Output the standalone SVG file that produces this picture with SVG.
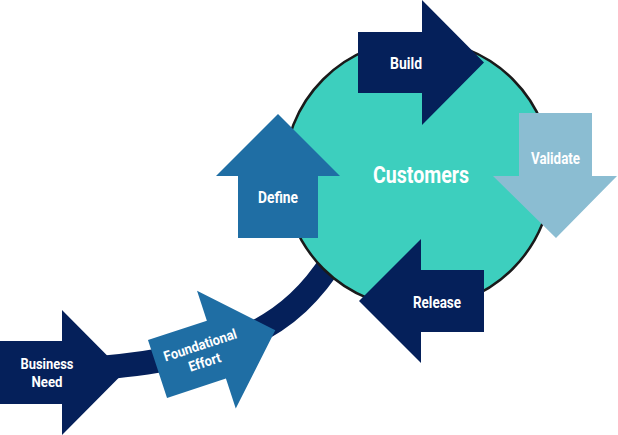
<svg xmlns="http://www.w3.org/2000/svg" width="618" height="435" viewBox="0 0 618 435">
<style>
.navy{fill:#05205a}
.steel{fill:#1f6ea4}
.light{fill:#8bbdd2}
.lbl{font-family:Roboto,"Liberation Sans",sans-serif;font-weight:700;fill:#ffffff;text-anchor:middle}
.s16{font-size:16px}
.s15{font-size:15px}
.s14{font-size:14px}
</style>
<rect width="618" height="435" fill="#ffffff"/>
<g id="connectors">
<path d="M100 368 C230 356 290 330 336 255" fill="none" stroke="#05205a" stroke-width="24"/>
</g>
<g id="customers">
<circle cx="418" cy="174" r="134" fill="#3dcfbe" stroke="#1a1a1a" stroke-width="2.5"/>
<text class="lbl" x="421" y="183" font-size="23" textLength="96" lengthAdjust="spacingAndGlyphs">Customers</text>
</g>
<g id="business-need">
<path class="navy" d="M0 341 H62 V310 L124 372.5 L62 435 V404 H0 Z"/>
<text class="lbl s15" x="47" y="368.5" textLength="53" lengthAdjust="spacingAndGlyphs">Business</text>
<text class="lbl s15" x="47" y="387" textLength="31" lengthAdjust="spacingAndGlyphs">Need</text>
</g>
<g id="foundational-effort" transform="translate(157.5 369) rotate(-18.2)">
<path class="steel" d="M0 -30.5 H62 V-62 L124 0 L62 62 V30.5 H0 Z"/>
<text class="lbl s14" x="48" y="-4.5" textLength="76" lengthAdjust="spacingAndGlyphs">Foundational</text>
<text class="lbl s14" x="47" y="13" textLength="33" lengthAdjust="spacingAndGlyphs">Effort</text>
</g>
<g id="define">
<path class="steel" d="M238 238 V176 H216 L278 114 L340 176 H318 V238 Z"/>
<text class="lbl s16" x="278" y="202.5" textLength="40" lengthAdjust="spacingAndGlyphs">Define</text>
</g>
<g id="build">
<path class="navy" d="M358 32 H422 V0 L484 62.5 L422 125 V93 H358 Z"/>
<text class="lbl s16" x="406" y="68.5" textLength="32" lengthAdjust="spacingAndGlyphs">Build</text>
</g>
<g id="validate">
<path class="light" d="M519 113 H592 V176 H617 L556 238 L493 176 H519 Z"/>
<text class="lbl s16" x="555.5" y="164" textLength="49" lengthAdjust="spacingAndGlyphs">Validate</text>
</g>
<g id="release">
<path class="navy" d="M484 270 V332 H421 V363 L359 301 L421 239 V270 Z"/>
<text class="lbl s16" x="437" y="307.5" textLength="48" lengthAdjust="spacingAndGlyphs">Release</text>
</g>
</svg>
